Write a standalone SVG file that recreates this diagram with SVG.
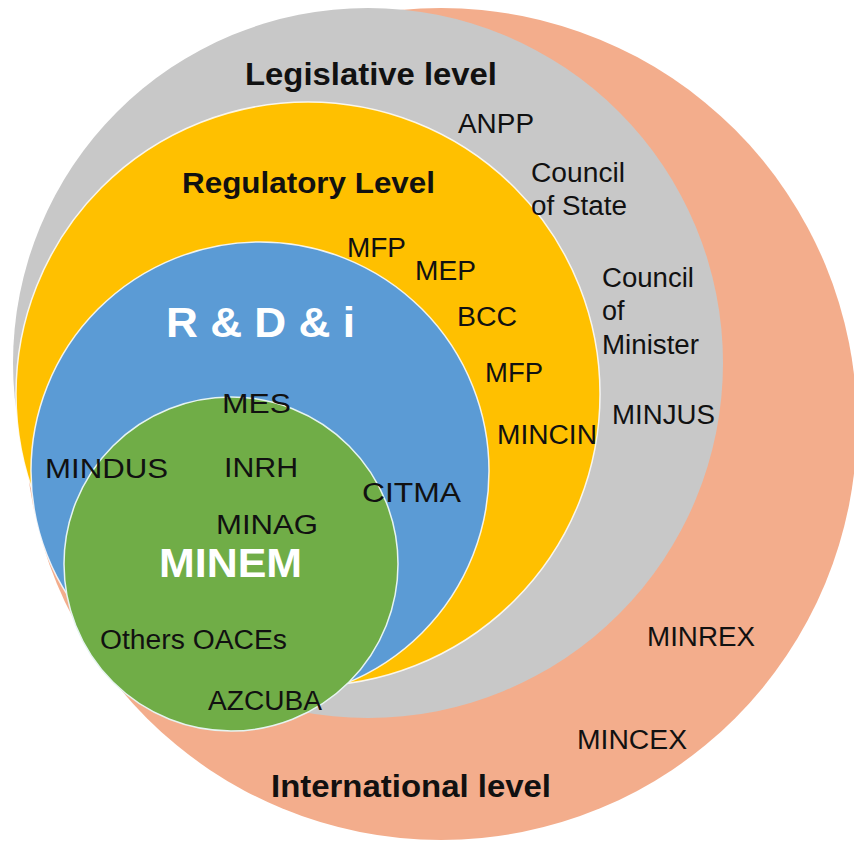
<svg xmlns="http://www.w3.org/2000/svg" width="854" height="841" viewBox="0 0 854 841">
<style>
.t{font-family:"Liberation Sans",Arial,sans-serif;font-size:27px;fill:#111}
.b{font-family:"Liberation Sans",Arial,sans-serif;font-weight:bold;fill:#111}
.w{font-family:"Liberation Sans",Arial,sans-serif;font-weight:bold;fill:#fff}
.edge{stroke:#ffffff;stroke-width:1.5;stroke-opacity:0.85}
</style>
<rect width="854" height="841" fill="#ffffff"/>
<g id="international-circle"><circle cx="441" cy="424" r="416" fill="#F3AD8C"/></g>
<g id="legislative-circle"><circle cx="368" cy="363" r="355" fill="#C8C8C8"/></g>
<g id="regulatory-circle"><circle cx="308" cy="394" r="292" fill="#FFC000" class="edge"/></g>
<g id="rdi-circle"><circle cx="260" cy="471" r="229" fill="#5B9BD5" class="edge"/></g>
<g id="minem-circle"><circle cx="231" cy="564" r="167" fill="#70AD47" stroke="#E6F4F1" stroke-width="1.5"/></g>

<g id="international-labels">
<text class="b" x="271" y="797" font-size="31" textLength="280" lengthAdjust="spacingAndGlyphs">International level</text>
<text class="t" x="647" y="646" textLength="108" lengthAdjust="spacingAndGlyphs">MINREX</text>
<text class="t" x="577" y="749" textLength="110" lengthAdjust="spacingAndGlyphs">MINCEX</text>
</g>
<g id="legislative-labels">
<text class="b" x="245" y="85" font-size="31" textLength="252" lengthAdjust="spacingAndGlyphs">Legislative level</text>
<text class="t" x="458" y="133" textLength="76" lengthAdjust="spacingAndGlyphs">ANPP</text>
<text class="t" x="531" y="182" textLength="94" lengthAdjust="spacingAndGlyphs">Council</text>
<text class="t" x="531" y="215" textLength="96" lengthAdjust="spacingAndGlyphs">of State</text>
<text class="t" x="602" y="287" textLength="92" lengthAdjust="spacingAndGlyphs">Council</text>
<text class="t" x="602" y="320">of</text>
<text class="t" x="602" y="354" textLength="97" lengthAdjust="spacingAndGlyphs">Minister</text>
<text class="t" x="612" y="424" textLength="103" lengthAdjust="spacingAndGlyphs">MINJUS</text>
</g>
<g id="regulatory-labels">
<text class="b" x="182" y="193" font-size="29" textLength="253" lengthAdjust="spacingAndGlyphs">Regulatory Level</text>
<text class="t" x="347" y="257" textLength="59" lengthAdjust="spacingAndGlyphs">MFP</text>
<text class="t" x="415" y="280" textLength="61" lengthAdjust="spacingAndGlyphs">MEP</text>
<text class="t" x="457" y="326" textLength="60" lengthAdjust="spacingAndGlyphs">BCC</text>
<text class="t" x="485" y="382" textLength="58" lengthAdjust="spacingAndGlyphs">MFP</text>
<text class="t" x="497" y="444" textLength="100" lengthAdjust="spacingAndGlyphs">MINCIN</text>
</g>
<g id="rdi-labels">
<text class="w" x="166" y="337" font-size="42" textLength="189" lengthAdjust="spacingAndGlyphs">R &amp; D &amp; i</text>
<text class="t" x="222" y="413" textLength="69" lengthAdjust="spacingAndGlyphs">MES</text>
<text class="t" x="45" y="478" textLength="123" lengthAdjust="spacingAndGlyphs">MINDUS</text>
<text class="t" x="224" y="477" textLength="74" lengthAdjust="spacingAndGlyphs">INRH</text>
<text class="t" x="362" y="502" textLength="99" lengthAdjust="spacingAndGlyphs">CITMA</text>
<text class="t" x="216" y="534" textLength="102" lengthAdjust="spacingAndGlyphs">MINAG</text>
</g>
<g id="minem-labels">
<text class="w" x="159" y="577" font-size="41" textLength="143" lengthAdjust="spacingAndGlyphs">MINEM</text>
<text class="t" x="100" y="649" textLength="187" lengthAdjust="spacingAndGlyphs">Others OACEs</text>
<text class="t" x="208" y="710" textLength="114" lengthAdjust="spacingAndGlyphs">AZCUBA</text>
</g>
</svg>
